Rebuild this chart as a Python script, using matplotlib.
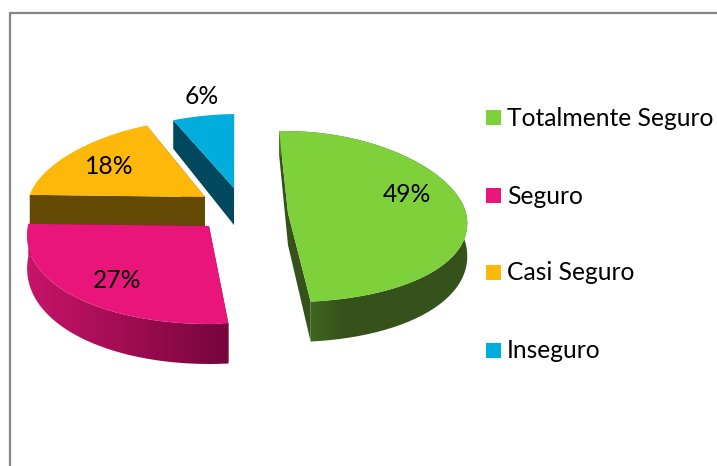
import numpy as np
import matplotlib
matplotlib.use("Agg")
import matplotlib.pyplot as plt
from matplotlib.path import Path
from matplotlib.patches import PathPatch

# Data
categories = ["Totalmente Seguro", "Seguro", "Casi Seguro", "Inseguro"]
values = [49, 27, 18, 6]
colors = ["#7FD13B", "#EA157A", "#FEB80A", "#00ADDC"]
cut_colors = ["#35521A", "#7A063F", "#654A05", "#00485E"]

# Pixel layout of the exploded slices (apex x, apex y, rx, ry far, ry near, shear, depth)
apex = [(288, 213), (209, 226), (205, 197), (234, 188)]
radii = [(178, 82, 89), (181, 78, 98), (176, 78, 90), (182, 74, 80)]
shear = [-0.04, 0, 0.08, 0.08]
depth = [32, 32, 32, 37]
label_pos = [(407, 193), (117, 279), (109, 166), (202, 96)]
legend_y = [117, 195, 272, 350]
start = -2  # rotation of first slice, clockwise from 12 o'clock
persp = 0.1

plt.rcParams["font.family"] = ["Lato", "DejaVu Sans"]
fig = plt.figure(figsize=(7.17, 4.66), dpi=100)
ax = fig.add_axes([0, 0, 1, 1])

# Chart border, only left and top show
ax.plot([10, 10, 717], [466, 12.5, 12.5], color="#868686", lw=1.6, solid_joinstyle="miter")


def rim(i, th):
    a = np.radians(th)
    rx, far, near = radii[i]
    ry = np.where(np.cos(a) > 0, far, near)
    s = 1 - persp * np.cos(a)
    x = apex[i][0] + rx * s * np.sin(a) + shear[i] * ry * np.cos(a)
    y = apex[i][1] - ry * np.cos(a)
    return x, y


def wall_gradient(i):
    # colours along the outer wall, left to right
    f = np.linspace(0, 1, 256)
    if i == 0:
        c0, c1 = np.array([76, 122, 40]), np.array([53, 82, 26])
        f = np.minimum(f * 3, 1)
    else:
        c0, c1 = np.array([200, 20, 105]), np.array([118, 5, 60])
    return (c0 + np.outer(f, c1 - c0))[None, :, :] / 255


def draw_slice(i, t0, t1, z):
    th = np.linspace(t0, t1, 121)
    x, y = rim(i, th)
    ax_, ay_ = apex[i]
    d = depth[i] * (1 - 0.25 * np.cos(np.radians(th)))
    # cut faces
    for k in (0, -1):
        ax.fill([ax_, x[k], x[k], ax_], [ay_, y[k], y[k] + d[k], ay_ + depth[i]],
                color=cut_colors[i], lw=0, zorder=z)
    # outer wall, gradient clipped to the band under the rim
    if i < 2:
        verts = np.r_[np.c_[x, y], np.c_[x, y + d][::-1]]
        band = PathPatch(Path(np.r_[verts, verts[:1]]), fc="none", ec="none", zorder=z,
                         transform=ax.transData)
        ax.add_patch(band)
        im = ax.imshow(wall_gradient(i), aspect="auto", zorder=z,
                       extent=[x.min(), x.max(), (y + d).max(), y.min()])
        im.set_clip_path(band)
    # top
    ax.fill(np.r_[ax_, x], np.r_[ay_, y], color=colors[i], lw=0, zorder=z + 0.5)


# Orange and blue go behind, pink over orange
angles = start + np.r_[0, np.cumsum(values)] * 3.6
for z, i in enumerate([3, 2, 0, 1]):
    draw_slice(i, angles[i], angles[i + 1], z + 1)

for i in range(4):
    ax.text(label_pos[i][0], label_pos[i][1] + 1, "%d%%" % values[i], ha="center", va="center",
            fontsize=17.7, color="black", zorder=20)
    ax.fill([486, 501, 501, 486],
            np.array([-7.5, -7.5, 7.5, 7.5]) + legend_y[i] + 0.5, color=colors[i], lw=0)
    ax.text(507, legend_y[i] + 1, categories[i], ha="left", va="center", fontsize=17.7, color="black")

ax.set_xlim(0, 717)
ax.set_ylim(466, 0)
ax.axis("off")
plt.savefig("out.png", dpi=100)
